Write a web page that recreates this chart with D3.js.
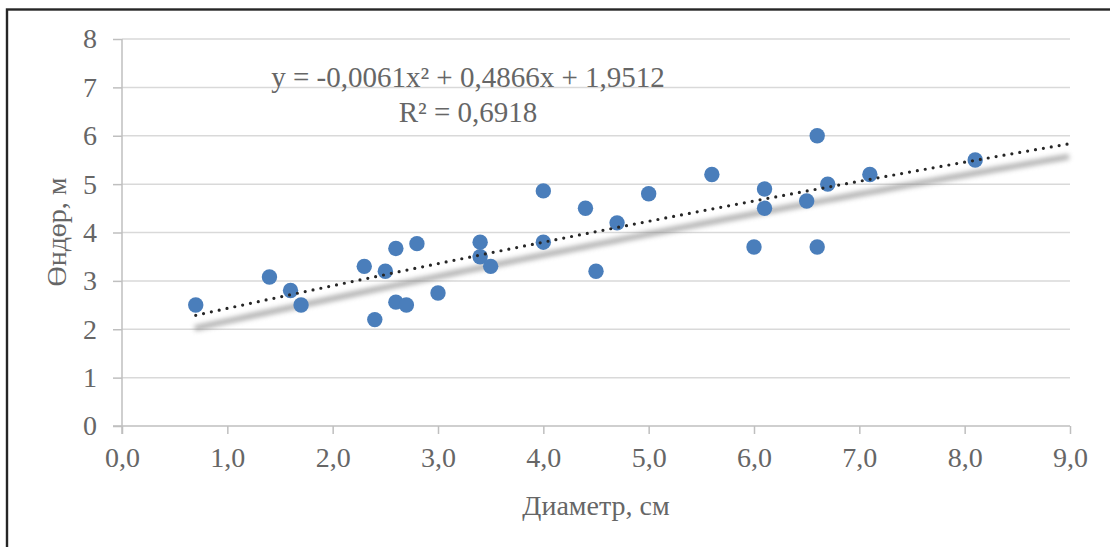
<!DOCTYPE html>
<meta charset="utf-8">
<head>
  <title>Өндөр vs Диаметр</title>
</head>
<style>
body { margin: 0; background: #fff; }
svg text { font-family: "Liberation Serif", "Times New Roman", serif; fill: #666666; }
</style>
<body>
<svg width="1110" height="547"></svg>
<script src="https://cdn.jsdelivr.net/npm/d3@7"></script>
<script>
// measured values: diameter (cm) and height (m)
var diameter = [0.7, 1.4, 1.6, 1.7, 2.3, 2.4, 2.5, 2.6, 2.6, 2.7, 2.8, 3.0, 3.4, 3.4, 3.5,
                4.0, 4.0, 4.4, 4.5, 4.7, 5.0, 5.6, 6.0, 6.1, 6.1, 6.5, 6.6, 6.6, 6.7, 7.1, 8.1];
var height = [2.5, 3.08, 2.8, 2.5, 3.3, 2.2, 3.2, 3.67, 2.56, 2.5, 3.77, 2.75, 3.8, 3.5, 3.3,
              4.86, 3.8, 4.5, 3.2, 4.2, 4.8, 5.2, 3.7, 4.9, 4.5, 4.65, 6.0, 3.7, 5.0, 5.2, 5.5];
var xTicks = [0, 1, 2, 3, 4, 5, 6, 7, 8, 9];
var yTicks = [0, 1, 2, 3, 4, 5, 6, 7, 8];
// polynomial trendline from the label
var coef = [1.9512, 0.4866, -0.0061];
var eqLabel = "y = -0,0061x² + 0,4866x + 1,9512";
var r2Label = "R² = 0,6918";

var svg = d3.select('svg');

var x = d3.scaleLinear().domain([0, 9]).range([122, 1070]);
var y = d3.scaleLinear().domain([0, 8]).range([426, 39]);

var defs = svg.append('defs');
defs.append('filter').attr('id', 'blur')
  .attr('x', '-10%').attr('y', '-50%').attr('width', '120%').attr('height', '200%')
  .append('feGaussianBlur').attr('stdDeviation', 2.4);

// outer frame
svg.append('rect')
  .attr('x', 7).attr('y', 9.5).attr('width', 1300).attr('height', 700)
  .attr('fill', 'none').attr('stroke', '#262626').attr('stroke-width', 2.4);

// gridlines
svg.append('g').selectAll('line').data(yTicks.filter(function(d) { return d > 0; }))
  .enter().append('line')
  .attr('x1', x(0)).attr('x2', x(9))
  .attr('y1', function(d) { return y(d); }).attr('y2', function(d) { return y(d); })
  .attr('stroke', '#d9d9d9').attr('stroke-width', 1.5);

// axes
var xAxis = d3.axisBottom(x).tickValues(xTicks).tickSize(8).tickPadding(13)
  .tickFormat(function(d) { return d3.format('.1f')(d).replace('.', ','); });
var gx = svg.append('g').attr('transform', 'translate(0,' + y(0) + ')').call(xAxis);
gx.select('.domain').attr('d', 'M' + (x(0) - 9) + ',0H' + x(9)).attr('stroke', '#bfbfbf').attr('stroke-width', 1.5);
gx.selectAll('.tick line').attr('stroke', '#bfbfbf').attr('stroke-width', 1.5);
gx.selectAll('.tick text').attr('font-size', 28).attr('fill', '#666666')
  .attr('font-family', '"Liberation Serif", serif');

var yAxis = d3.axisLeft(y).tickValues(yTicks).tickSize(9).tickPadding(16)
  .tickFormat(d3.format('d'));
var gy = svg.append('g').attr('transform', 'translate(' + x(0) + ',0)').call(yAxis);
gy.select('.domain').attr('d', 'M0,' + y(8) + 'V' + (y(0) + 8)).attr('stroke', '#bfbfbf').attr('stroke-width', 1.5);
gy.selectAll('.tick line').attr('stroke', '#bfbfbf').attr('stroke-width', 1.5);
gy.selectAll('.tick text').attr('font-size', 28).attr('fill', '#666666')
  .attr('font-family', '"Liberation Serif", serif');

// trendline
var trendX = d3.range(0.7, 9.0001, 0.1);
var trend = d3.line()
  .x(function(d) { return x(d); })
  .y(function(d) { return y(coef[0] + coef[1] * d + coef[2] * d * d); });

svg.append('path').datum(trendX)
  .attr('d', trend)
  .attr('transform', 'translate(-1,13)')
  .attr('fill', 'none').attr('stroke', '#7a7a7a').attr('stroke-width', 5.5)
  .attr('opacity', 0.6).attr('filter', 'url(#blur)');

// points
svg.append('g').selectAll('circle').data(diameter)
  .enter().append('circle')
  .attr('cx', function(d) { return x(d); })
  .attr('cy', function(d, i) { return y(height[i]); })
  .attr('r', 7.7)
  .attr('fill', '#4a7ebb');

svg.append('path').datum(trendX)
  .attr('d', trend)
  .attr('fill', 'none').attr('stroke', '#262626').attr('stroke-width', 3.2)
  .attr('stroke-linecap', 'round').attr('stroke-dasharray', '0 8');

// equation label
svg.append('text').attr('x', 468).attr('y', 87).attr('text-anchor', 'middle')
  .attr('font-size', 29).text(eqLabel);
svg.append('text').attr('x', 468).attr('y', 122).attr('text-anchor', 'middle')
  .attr('font-size', 29).text(r2Label);

// axis titles
svg.append('text').attr('x', 596).attr('y', 515).attr('text-anchor', 'middle')
  .attr('font-size', 28).text('Диаметр, см');
svg.append('text').attr('transform', 'translate(66,232) rotate(-90)').attr('text-anchor', 'middle')
  .attr('font-size', 28).text('Өндөр, м');
</script>
</body>
</html>
